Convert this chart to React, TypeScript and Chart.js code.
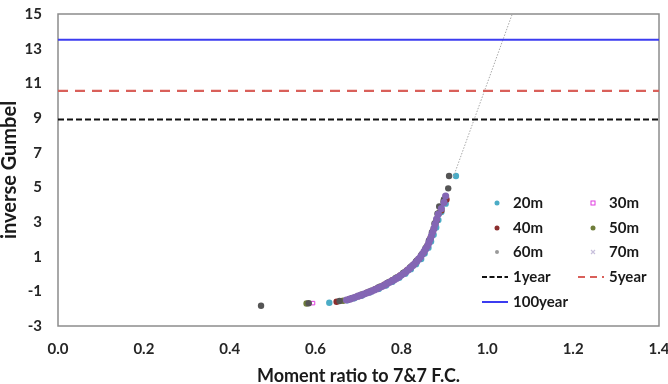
import React, { useEffect, useRef } from "react";
import { Chart, registerables } from "chart.js";

Chart.register(...registerables);

// ---- data ----
const xTicks = [0.0, 0.2, 0.4, 0.6, 0.8, 1.0, 1.2, 1.4];
const yTicks = [-3, -1, 1, 3, 5, 7, 9, 11, 13, 15];

const x20 = [0.632, 0.674, 0.69, 0.708, 0.727, 0.747, 0.764, 0.779, 0.795, 0.809, 0.822, 0.834, 0.846, 0.854, 0.863, 0.869, 0.875, 0.881, 0.886, 0.893, 0.903, 0.927];
const y20 = [-1.66, -1.52, -1.4, -1.24, -1.06, -0.86, -0.66, -0.45, -0.22, 0.02, 0.28, 0.56, 0.86, 1.18, 1.52, 1.88, 2.26, 2.68, 3.12, 3.58, 4.06, 5.65];

const x30 = [0.594, 0.676, 0.7, 0.722, 0.744, 0.766, 0.786, 0.803, 0.82, 0.836, 0.849, 0.86, 0.868, 0.876, 0.882, 0.89, 0.904];
const y30 = [-1.68, -1.5, -1.3, -1.08, -0.84, -0.58, -0.3, 0.0, 0.34, 0.72, 1.12, 1.56, 2.04, 2.56, 3.1, 3.7, 4.4];

const x40 = [0.649, 0.678, 0.698, 0.719, 0.74, 0.76, 0.779, 0.797, 0.813, 0.828, 0.841, 0.852, 0.861, 0.868, 0.875, 0.882, 0.893, 0.905];
const y40 = [-1.6, -1.46, -1.28, -1.08, -0.86, -0.62, -0.36, -0.08, 0.22, 0.54, 0.88, 1.26, 1.66, 2.1, 2.58, 3.1, 3.66, 4.3];

const x50 = [0.579, 0.664, 0.686, 0.708, 0.73, 0.751, 0.771, 0.79, 0.808, 0.823, 0.836, 0.848, 0.858, 0.866, 0.873, 0.88, 0.888, 0.898];
const y50 = [-1.7, -1.54, -1.38, -1.18, -0.96, -0.72, -0.46, -0.18, 0.12, 0.44, 0.78, 1.14, 1.54, 1.98, 2.46, 2.98, 3.54, 4.18];

const x60 = [0.473, 0.584, 0.656, 0.682, 0.703, 0.725, 0.746, 0.767, 0.786, 0.804, 0.82, 0.834, 0.846, 0.856, 0.864, 0.871, 0.877, 0.884, 0.888, 0.899, 0.909, 0.911];
const y60 = [-1.83, -1.69, -1.56, -1.42, -1.24, -1.02, -0.78, -0.52, -0.24, 0.06, 0.38, 0.72, 1.08, 1.48, 1.92, 2.4, 2.92, 3.48, 3.9, 4.3, 4.94, 5.65];

const x70 = [0.672, 0.68, 0.686, 0.692, 0.699, 0.706, 0.713, 0.719, 0.725, 0.731, 0.737, 0.743, 0.749, 0.755, 0.761, 0.766, 0.772, 0.778, 0.784, 0.789, 0.795, 0.8, 0.806, 0.811, 0.816, 0.821, 0.826, 0.831, 0.836, 0.84, 0.845, 0.849, 0.853, 0.857, 0.861, 0.864, 0.867, 0.87, 0.873, 0.876, 0.879, 0.882, 0.886, 0.893, 0.899, 0.903];
const y70 = [-1.5, -1.45, -1.4, -1.34, -1.28, -1.22, -1.16, -1.1, -1.04, -0.98, -0.92, -0.85, -0.78, -0.71, -0.64, -0.56, -0.48, -0.4, -0.32, -0.24, -0.15, -0.06, 0.04, 0.14, 0.25, 0.36, 0.48, 0.6, 0.73, 0.86, 1.0, 1.15, 1.3, 1.46, 1.63, 1.81, 2.0, 2.2, 2.42, 2.65, 2.9, 3.17, 3.46, 3.78, 4.13, 4.5];

const level1year = 8.92;
const level5year = 10.56;
const level100year = 13.52;

const trendX = [0.921, 1.064];
const trendY = [5.6, 15.4];

const xRange = [0, 1.4];

const FONT = "Lato, 'Open Sans', 'DejaVu Sans', sans-serif";

const pts = (xs: number[], ys: number[]) => xs.map((x, i) => ({ x, y: ys[i] }));
const hline = (v: number) => xRange.map((x) => ({ x, y: v }));

const borderPlugin = {
  id: "plotBorder",
  beforeDatasetsDraw(chart: any) {
    const { ctx, chartArea: a } = chart;
    ctx.save();
    ctx.strokeStyle = "#8c8c8c";
    ctx.lineWidth = 1.5;
    ctx.strokeRect(a.left, a.top, a.right - a.left, a.bottom - a.top);
    ctx.restore();
  },
};

const legendPlugin = {
  id: "customLegend",
  afterDraw(chart: any) {
    const { ctx } = chart;
    ctx.save();
    ctx.font = `bold 15px ${FONT}`;
    ctx.fillStyle = "#1a1a1a";
    ctx.textBaseline = "middle";
    ctx.textAlign = "left";
    const c1m = 497, c1t = 513, c2m = 593, c2t = 609;
    const rows = [203, 228, 252, 277, 302];
    const dot = (x: number, y: number, col: string, r = 2.5) => {
      ctx.beginPath();
      ctx.fillStyle = col;
      ctx.arc(x, y, r, 0, Math.PI * 2);
      ctx.fill();
    };
    dot(c1m, rows[0], "#4bacc6");
    ctx.strokeStyle = "#e03ce0";
    ctx.lineWidth = 1;
    ctx.strokeRect(c2m - 2, rows[0] - 2, 4, 4);
    dot(c1m, rows[1], "#8b2e2e");
    dot(c2m, rows[1], "#6f7d3a");
    dot(c1m, rows[2], "#9a9a9a", 2);
    ctx.strokeStyle = "#c8c0dc";
    ctx.lineWidth = 1.2;
    ctx.beginPath();
    ctx.moveTo(c2m - 2, rows[2] - 2);
    ctx.lineTo(c2m + 2, rows[2] + 2);
    ctx.moveTo(c2m + 2, rows[2] - 2);
    ctx.lineTo(c2m - 2, rows[2] + 2);
    ctx.stroke();
    const seg = (x1: number, x2: number, y: number, col: string, dash: number[]) => {
      ctx.beginPath();
      ctx.setLineDash(dash);
      ctx.strokeStyle = col;
      ctx.lineWidth = 2;
      ctx.moveTo(x1, y);
      ctx.lineTo(x2, y);
      ctx.stroke();
      ctx.setLineDash([]);
    };
    seg(482, 508, rows[3], "#111111", [5, 2.5]);
    seg(578, 604, rows[3], "#d9605a", [7, 5]);
    seg(482, 508, rows[4], "#3c3cf0", []);
    ctx.fillStyle = "#1a1a1a";
    ctx.fillText("20m", c1t, rows[0]);
    ctx.fillText("30m", c2t, rows[0]);
    ctx.fillText("40m", c1t, rows[1]);
    ctx.fillText("50m", c2t, rows[1]);
    ctx.fillText("60m", c1t, rows[2]);
    ctx.fillText("70m", c2t, rows[2]);
    ctx.fillText("1year", c1t, rows[3]);
    ctx.fillText("5year", c2t, rows[3]);
    ctx.fillText("100year", c1t, rows[4]);
    ctx.restore();
  },
};

export default function App() {
  const ref = useRef<HTMLCanvasElement>(null);
  useEffect(() => {
    document.body.style.margin = "0";
    const scatterDs = (label: string, xs: number[], ys: number[], color: string, order: number, extra: any = {}) => ({
      label,
      data: pts(xs, ys),
      backgroundColor: color,
      borderColor: color,
      pointRadius: 3.2,
      pointBorderWidth: 0,
      showLine: false,
      order,
      ...extra,
    });
    const lineDs = (label: string, data: any[], color: string, dash: number[], width: number, order: number) => ({
      label,
      data,
      showLine: true,
      borderColor: color,
      backgroundColor: color,
      borderWidth: width,
      borderDash: dash,
      pointRadius: 0,
      fill: false,
      order,
    });
    const chart = new Chart(ref.current!, {
      type: "scatter",
      data: {
        datasets: [
          scatterDs("20m", x20, y20, "#4bacc6", 6),
          scatterDs("30m", x30, y30, "#e03ce0", 5, {
            pointStyle: "rect",
            backgroundColor: "rgba(0,0,0,0)",
            pointBorderWidth: 1,
            pointRadius: 2.5,
          }),
          scatterDs("40m", x40, y40, "#8b2e2e", 4),
          scatterDs("50m", x50, y50, "#6f7d3a", 3),
          scatterDs("60m", x60, y60, "#555555", 2),
          scatterDs("70m", x70, y70, "#8466b4", 1, { pointRadius: 3.6 }),
          lineDs("1year", hline(level1year), "#111111", [6, 3], 2, 0),
          lineDs("5year", hline(level5year), "#d9605a", [10, 7], 2.2, 0),
          lineDs("100year", hline(level100year), "#3c3cf0", [], 2, 0),
          lineDs("trend", pts(trendX, trendY), "#a8a8a8", [1.5, 1.5], 1, 0),
        ],
      },
      options: {
        animation: false,
        responsive: true,
        maintainAspectRatio: false,
        layout: { padding: { top: 14, right: 9, bottom: 0, left: 0 } },
        plugins: { legend: { display: false }, tooltip: { enabled: false } },
        scales: {
          x: {
            type: "linear",
            min: 0,
            max: 1.4,
            afterFit: (s: any) => {
              s.height = 58;
              s.paddingLeft = 0;
              s.paddingRight = 0;
            },
            afterBuildTicks: (s: any) => {
              s.ticks = xTicks.map((v) => ({ value: v }));
            },
            grid: { display: false, drawTicks: false },
            border: { display: false },
            ticks: {
              padding: 14,
              color: "#262626",
              font: { family: FONT, size: 15, weight: "bold" },
              callback: (v: any) => Number(v).toFixed(1),
            },
            title: {
              display: true,
              text: "Moment ratio to 7&7 F.C.",
              color: "#1a1a1a",
              font: { family: FONT, size: 18, weight: "bold", lineHeight: 1 },
              padding: { top: 0, bottom: -1 },
            },
          },
          y: {
            type: "linear",
            min: -3,
            max: 15,
            afterFit: (s: any) => {
              s.width = 58;
              s.paddingTop = 0;
              s.paddingBottom = 0;
            },
            afterBuildTicks: (s: any) => {
              s.ticks = yTicks.map((v) => ({ value: v }));
            },
            grid: { display: false, drawTicks: false },
            border: { display: false },
            ticks: {
              padding: 16,
              color: "#262626",
              font: { family: FONT, size: 15, weight: "bold" },
              callback: (v: any) => String(v),
            },
            title: {
              display: true,
              text: "inverse Gumbel",
              color: "#1a1a1a",
              font: { family: FONT, size: 20, weight: "bold", lineHeight: 1 },
              padding: { top: 0, bottom: 0 },
            },
          },
        },
      } as any,
      plugins: [borderPlugin, legendPlugin],
    });
    return () => chart.destroy();
  }, []);
  return (
    <div style={{ width: 668, height: 384, position: "relative" }}>
      <canvas ref={ref} />
    </div>
  );
}
